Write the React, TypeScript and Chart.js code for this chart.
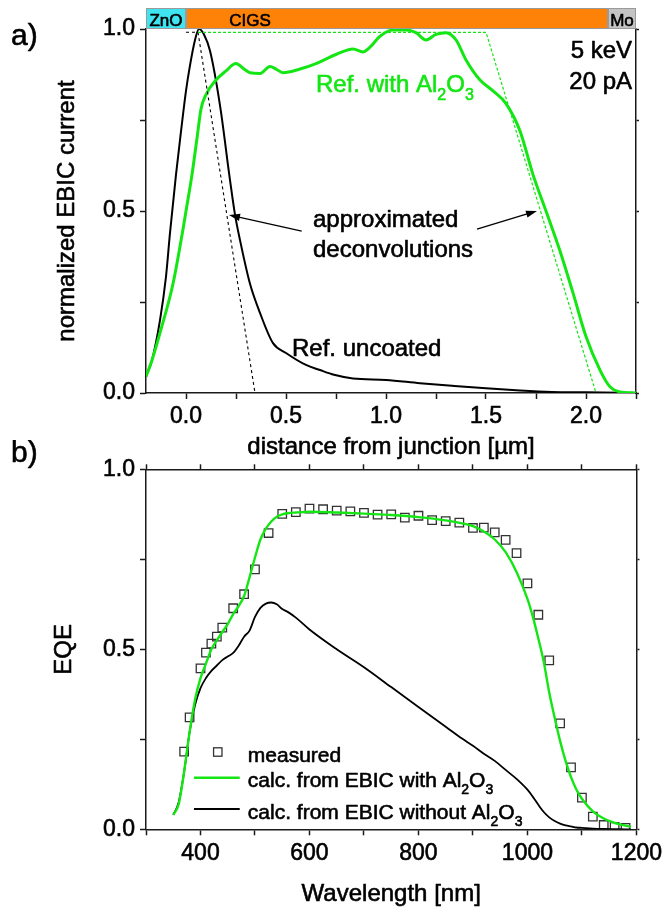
import React, { useEffect, useRef } from 'react';
import { Chart, registerables } from 'chart.js';

Chart.register(...registerables);

const FONT = "'Liberation Sans', Arial, Helvetica, sans-serif";
const GREEN = '#14e614';
const AXIS = '#1a1a1a';
const TEXT_STROKE = 0.6;

// ---------- Panel a: EBIC profiles ----------
const distUncoated = [-0.2, -0.17, -0.13, -0.1, -0.08, -0.05, -0.03, 0, 0.02, 0.045, 0.065, 0.09, 0.12, 0.17, 0.22, 0.245, 0.27, 0.32, 0.37, 0.435, 0.5, 0.6, 0.67, 0.74, 0.835, 1.0, 1.17, 1.33, 1.5, 1.67, 1.83, 2.0, 2.25];
const ebicUncoated = [0.045, 0.09, 0.2, 0.32, 0.44, 0.6, 0.695, 0.83, 0.9, 0.97, 1.0, 0.985, 0.94, 0.79, 0.585, 0.49, 0.42, 0.3, 0.22, 0.137, 0.11, 0.077, 0.063, 0.05, 0.04, 0.036, 0.027, 0.02, 0.013, 0.007, 0.003, 0.002, 0];

const distCoated = [-0.2, -0.17, -0.13, -0.065, -0.015, 0, 0.03, 0.055, 0.075, 0.1, 0.15, 0.2, 0.25, 0.29, 0.32, 0.37, 0.42, 0.45, 0.485, 0.57, 0.65, 0.75, 0.835, 0.885, 0.92, 0.97, 1.035, 1.1, 1.15, 1.2, 1.25, 1.3, 1.35, 1.4, 1.47, 1.535, 1.6, 1.67, 1.735, 1.8, 1.87, 1.935, 2.0, 2.07, 2.12, 2.17, 2.25];
const ebicCoated = [0.045, 0.09, 0.165, 0.3, 0.45, 0.5, 0.6, 0.7, 0.78, 0.82, 0.86, 0.885, 0.905, 0.89, 0.88, 0.878, 0.897, 0.89, 0.88, 0.89, 0.905, 0.93, 0.945, 0.937, 0.95, 0.98, 0.997, 0.997, 0.99, 0.97, 0.985, 0.99, 0.97, 0.915, 0.86, 0.83, 0.795, 0.72, 0.6, 0.5, 0.39, 0.275, 0.155, 0.063, 0.017, 0.003, 0];

const deconvUncoatedX = [0, 0.06, 0.345];
const deconvUncoatedY = [0.991, 0.991, 0];
const deconvCoatedX = [0.06, 1.5, 2.05];
const deconvCoatedY = [0.991, 0.991, 0];

const layerNames = ['ZnO', 'CIGS', 'Mo'];
const layerEdges = [-0.2, 0, 2.11, 2.25];
const layerColors = ['#3fe4f0', '#ff8208', '#c4c4c4'];
const layerLabelX = [-0.1, 0.32, 2.18];

const distTicks = [0, 0.25, 0.5, 0.75, 1, 1.25, 1.5, 1.75, 2, 2.25];
const distLabels = [0, 0.5, 1, 1.5, 2];
const fracTicks = [0, 0.25, 0.5, 0.75, 1];
const fracLabels = [0, 0.5, 1];

// ---------- Panel b: EQE ----------
const wlMeasured = [370, 380, 400, 410, 420, 430, 440, 460, 480, 500, 525, 550, 575, 600, 625, 650, 675, 700, 725, 750, 775, 800, 825, 850, 875, 900, 920, 940, 960, 980, 1000, 1020, 1040, 1060, 1080, 1100, 1120, 1140, 1160, 1180];
const eqeMeasured = [0.216, 0.311, 0.447, 0.491, 0.516, 0.535, 0.56, 0.614, 0.653, 0.722, 0.823, 0.876, 0.881, 0.891, 0.889, 0.885, 0.883, 0.879, 0.874, 0.875, 0.866, 0.871, 0.859, 0.856, 0.852, 0.837, 0.838, 0.825, 0.804, 0.767, 0.683, 0.596, 0.469, 0.294, 0.172, 0.088, 0.035, 0.012, 0.007, 0.004];

const wlCalc = [350, 360, 370, 380, 390, 400, 410, 420, 430, 440, 450, 460, 470, 480, 490, 500, 510, 520, 530, 540, 550, 560, 575, 600, 650, 700, 750, 800, 850, 880, 900, 920, 940, 960, 980, 1000, 1010, 1020, 1030, 1040, 1050, 1060, 1070, 1080, 1090, 1100, 1120, 1140, 1160, 1180, 1190];
const eqeWithAl2O3 = [0.04, 0.07, 0.16, 0.27, 0.36, 0.42, 0.46, 0.5, 0.525, 0.548, 0.57, 0.598, 0.62, 0.648, 0.7, 0.755, 0.805, 0.835, 0.855, 0.868, 0.875, 0.878, 0.88, 0.882, 0.88, 0.877, 0.873, 0.867, 0.858, 0.85, 0.842, 0.827, 0.805, 0.77, 0.715, 0.64, 0.59, 0.53, 0.465, 0.38, 0.31, 0.245, 0.19, 0.145, 0.11, 0.085, 0.05, 0.03, 0.018, 0.01, 0.007];
const eqeWithoutAl2O3 = [0.04, 0.075, 0.16, 0.27, 0.345, 0.392, 0.42, 0.44, 0.455, 0.47, 0.48, 0.49, 0.51, 0.535, 0.552, 0.59, 0.615, 0.627, 0.63, 0.625, 0.612, 0.604, 0.588, 0.555, 0.5, 0.45, 0.395, 0.34, 0.285, 0.252, 0.232, 0.21, 0.19, 0.165, 0.14, 0.11, 0.09, 0.068, 0.048, 0.033, 0.023, 0.016, 0.011, 0.008, 0.005, 0.004, 0.002, 0.001, 0.0005, 0, 0];

const wlTicks = [300, 400, 500, 600, 700, 800, 900, 1000, 1100, 1200];
const wlLabels = [400, 600, 800, 1000, 1200];

// ---------- helpers ----------
type Part = { t: string; sub?: boolean };

function drawRich(ctx: CanvasRenderingContext2D, parts: Part[], x: number, y: number, size: number, color: string, align: 'left' | 'right' | 'center' = 'left') {
  ctx.save();
  ctx.fillStyle = color;
  ctx.strokeStyle = color;
  ctx.lineWidth = TEXT_STROKE;
  ctx.lineJoin = 'round';
  ctx.textBaseline = 'alphabetic';
  ctx.textAlign = 'left';
  const subSize = Math.round(size * 0.67);
  let total = 0;
  const widths = parts.map((p) => {
    ctx.font = `${p.sub ? subSize : size}px ${FONT}`;
    const w = ctx.measureText(p.t).width;
    total += w;
    return w;
  });
  let cx = align === 'left' ? x : align === 'right' ? x - total : x - total / 2;
  parts.forEach((p, i) => {
    ctx.font = `${p.sub ? subSize : size}px ${FONT}`;
    const yy = p.sub ? y + size * 0.33 : y;
    ctx.fillText(p.t, cx, yy);
    ctx.strokeText(p.t, cx, yy);
    cx += widths[i];
  });
  ctx.restore();
}

function drawArrow(ctx: CanvasRenderingContext2D, x0: number, y0: number, x1: number, y1: number) {
  const ang = Math.atan2(y1 - y0, x1 - x0);
  const L = 11;
  const W = 3.6;
  const c = Math.cos(ang);
  const s = Math.sin(ang);
  ctx.save();
  ctx.strokeStyle = '#000';
  ctx.fillStyle = '#000';
  ctx.lineWidth = 1.3;
  ctx.beginPath();
  ctx.moveTo(x0, y0);
  ctx.lineTo(x1 - L * 0.7 * c, y1 - L * 0.7 * s);
  ctx.stroke();
  ctx.beginPath();
  ctx.moveTo(x1, y1);
  ctx.lineTo(x1 - L * c + W * s, y1 - L * s - W * c);
  ctx.lineTo(x1 - L * c - W * s, y1 - L * s + W * c);
  ctx.closePath();
  ctx.fill();
  ctx.restore();
}

function rotatedTitle(ctx: CanvasRenderingContext2D, text: string, x: number, y: number, size: number) {
  ctx.save();
  ctx.translate(x, y);
  ctx.rotate(-Math.PI / 2);
  drawRich(ctx, [{ t: text }], 0, 0, size, '#000', 'center');
  ctx.restore();
}

const toXY = (xs: number[], ys: number[]) => xs.map((x, i) => ({ x, y: ys[i] }));

const tickFont = { family: FONT, size: 23 };
const tickText = { color: '#000', font: tickFont, textStrokeColor: '#000', textStrokeWidth: TEXT_STROKE };

function fixedTicks(values: number[]) {
  return (scale: any) => {
    scale.ticks = values.map((v) => ({ value: v }));
  };
}

const panelAPlugin = {
  id: 'panelAExtras',
  afterDraw(chart: any) {
    const ctx: CanvasRenderingContext2D = chart.ctx;
    const x = chart.scales.x;
    const y = chart.scales.y;
    const px = (v: number) => x.getPixelForValue(v);
    const py = (v: number) => y.getPixelForValue(v);
    const barBottom = py(1);
    const barH = 21;
    // layer stack bar above the plot
    ctx.save();
    for (let i = 0; i < layerNames.length; i++) {
      const x0 = px(layerEdges[i]);
      const x1 = px(layerEdges[i + 1]);
      ctx.fillStyle = layerColors[i];
      ctx.fillRect(x0, barBottom - barH, x1 - x0, barH);
      ctx.strokeStyle = '#9a9a9a';
      ctx.lineWidth = 1;
      ctx.strokeRect(x0 + 0.5, barBottom - barH + 0.5, x1 - x0 - 1, barH - 1);
    }
    ctx.restore();
    for (let i = 0; i < layerNames.length; i++) {
      drawRich(ctx, [{ t: layerNames[i] }], px(layerLabelX[i]), barBottom - 3, 17, '#000', 'center');
    }
    // annotations
    drawRich(ctx, [{ t: 'Ref. with Al' }, { t: '2', sub: true }, { t: 'O' }, { t: '3', sub: true }], px(0.65), py(0.828), 24, GREEN);
    drawRich(ctx, [{ t: '5 keV' }], px(2.23), py(0.9195), 24, '#000', 'right');
    drawRich(ctx, [{ t: '20 pA' }], px(2.23), py(0.8354), 24, '#000', 'right');
    drawRich(ctx, [{ t: 'approximated' }], px(0.635), py(0.456), 24, '#000');
    drawRich(ctx, [{ t: 'deconvolutions' }], px(0.635), py(0.3736), 24, '#000');
    drawRich(ctx, [{ t: 'Ref. uncoated' }], px(0.53), py(0.103), 24, '#000');
    drawArrow(ctx, px(0.5785), py(0.445), px(0.215), py(0.489));
    drawArrow(ctx, px(1.455), py(0.4505), px(1.755), py(0.5));
    // axis titles and panel label
    rotatedTitle(ctx, 'normalized EBIC current', 73.5, (chart.chartArea.top + chart.chartArea.bottom) / 2, 24);
    drawRich(ctx, [{ t: 'distance from junction [µm]' }], (chart.chartArea.left + chart.chartArea.right) / 2, 454, 24, '#000', 'center');
    drawRich(ctx, [{ t: 'a)' }], 11, 45, 30, '#000');
  },
};

const panelBPlugin = {
  id: 'panelBExtras',
  afterDraw(chart: any) {
    const ctx: CanvasRenderingContext2D = chart.ctx;
    const x = chart.scales.x;
    const y = chart.scales.y;
    const px = (v: number) => x.getPixelForValue(v);
    const py = (v: number) => y.getPixelForValue(v);
    // legend
    const mx = px(431.7);
    const my = py(0.2147);
    ctx.save();
    ctx.strokeStyle = '#333';
    ctx.lineWidth = 1.3;
    ctx.strokeRect(mx - 4.2, my - 4.2, 8.4, 8.4);
    ctx.lineWidth = 2.4;
    ctx.strokeStyle = GREEN;
    ctx.beginPath();
    ctx.moveTo(px(388), py(0.1433));
    ctx.lineTo(px(472), py(0.1433));
    ctx.stroke();
    ctx.lineWidth = 2;
    ctx.strokeStyle = '#000';
    ctx.beginPath();
    ctx.moveTo(px(388), py(0.0564));
    ctx.lineTo(px(472), py(0.0564));
    ctx.stroke();
    ctx.restore();
    drawRich(ctx, [{ t: 'measured' }], px(486.8), py(0.187), 21, '#000');
    drawRich(ctx, [{ t: 'calc. from EBIC with Al' }, { t: '2', sub: true }, { t: 'O' }, { t: '3', sub: true }], px(486.8), py(0.1175), 21, '#000');
    drawRich(ctx, [{ t: 'calc. from EBIC without Al' }, { t: '2', sub: true }, { t: 'O' }, { t: '3', sub: true }], px(486.8), py(0.0297), 21, '#000');
    rotatedTitle(ctx, 'EQE', 71, (chart.chartArea.top + chart.chartArea.bottom) / 2, 24);
    drawRich(ctx, [{ t: 'Wavelength [nm]' }], (chart.chartArea.left + chart.chartArea.right) / 2, 461, 24, '#000', 'center');
    drawRich(ctx, [{ t: 'b)' }], 11, 22, 30, '#000');
  },
};

const gridCommon = { drawOnChartArea: false, tickColor: AXIS, tickWidth: 1.5 };
const borderCommon = { color: AXIS, width: 1.5 };

function makeConfigA(): any {
  return {
    type: 'scatter',
    data: {
      datasets: [
        { data: toXY(deconvCoatedX, deconvCoatedY), showLine: true, borderColor: GREEN, borderWidth: 1.2, borderDash: [3, 2], pointRadius: 0 },
        { data: toXY(deconvUncoatedX, deconvUncoatedY), showLine: true, borderColor: '#000', borderWidth: 1.1, borderDash: [3, 3], pointRadius: 0 },
        { data: toXY(distCoated, ebicCoated), showLine: true, borderColor: GREEN, borderWidth: 3, pointRadius: 0, cubicInterpolationMode: 'monotone' },
        { data: toXY(distUncoated, ebicUncoated), showLine: true, borderColor: '#000', borderWidth: 2, pointRadius: 0, cubicInterpolationMode: 'monotone' },
      ],
    },
    options: {
      animation: false,
      responsive: false,
      devicePixelRatio: 1,
      events: [],
      layout: { padding: { top: 29, left: 0, right: 0, bottom: 0 } },
      plugins: { legend: { display: false }, tooltip: { enabled: false } },
      scales: {
        x: {
          type: 'linear', axis: 'x', position: 'bottom', min: -0.2, max: 2.25,
          afterBuildTicks: fixedTicks(distTicks),
          afterFit: (s: any) => { s.height = 67; },
          ticks: { ...tickText, autoSkip: false, maxRotation: 0, padding: 4, callback: (v: number) => (distLabels.includes(v) ? v.toFixed(1) : '') },
          grid: { ...gridCommon, tickLength: 6 },
          border: borderCommon,
        },
        y: {
          type: 'linear', axis: 'y', position: 'left', min: 0, max: 1,
          afterBuildTicks: fixedTicks(fracTicks),
          afterFit: (s: any) => { s.width = 146; },
          ticks: { ...tickText, autoSkip: false, padding: 5, callback: (v: number) => (fracLabels.includes(v) ? v.toFixed(1) : '') },
          grid: { ...gridCommon, tickLength: 6 },
          border: borderCommon,
        },
        y2: {
          type: 'linear', axis: 'y', position: 'right', min: 0, max: 1,
          afterBuildTicks: fixedTicks(fracTicks),
          afterFit: (s: any) => { s.width = 31; },
          ticks: { display: false },
          grid: { ...gridCommon, tickLength: 3 },
          border: borderCommon,
        },
      },
    },
    plugins: [panelAPlugin],
  };
}

function makeConfigB(): any {
  return {
    type: 'scatter',
    data: {
      datasets: [
        { data: toXY(wlCalc, eqeWithAl2O3), showLine: true, borderColor: GREEN, borderWidth: 2.4, pointRadius: 0, cubicInterpolationMode: 'monotone' },
        { data: toXY(wlCalc, eqeWithoutAl2O3), showLine: true, borderColor: '#000', borderWidth: 1.8, pointRadius: 0, cubicInterpolationMode: 'monotone' },
        { data: toXY(wlMeasured, eqeMeasured), showLine: false, pointStyle: 'rect', pointRadius: 6, borderColor: '#333', pointBorderWidth: 1.3, backgroundColor: 'rgba(0,0,0,0)' },
      ],
    },
    options: {
      animation: false,
      responsive: false,
      devicePixelRatio: 1,
      events: [],
      layout: { padding: { top: 20, left: 0, right: 0, bottom: 0 } },
      plugins: { legend: { display: false }, tooltip: { enabled: false } },
      scales: {
        x: {
          type: 'linear', axis: 'x', position: 'bottom', min: 300, max: 1200,
          afterBuildTicks: fixedTicks(wlTicks),
          afterFit: (s: any) => { s.height = 83.7; },
          ticks: { ...tickText, autoSkip: false, maxRotation: 0, padding: 5, callback: (v: number) => (wlLabels.includes(v) ? String(v) : '') },
          grid: { ...gridCommon, tickLength: 6 },
          border: borderCommon,
        },
        x2: {
          type: 'linear', axis: 'x', position: 'top', min: 300, max: 1200,
          afterBuildTicks: fixedTicks(wlTicks),
          afterFit: (s: any) => { s.height = 9.3; },
          ticks: { display: false },
          grid: { ...gridCommon, tickLength: 5 },
          border: borderCommon,
        },
        y: {
          type: 'linear', axis: 'y', position: 'left', min: 0, max: 1,
          afterBuildTicks: fixedTicks(fracTicks),
          afterFit: (s: any) => { s.width = 146; },
          ticks: { ...tickText, autoSkip: false, padding: 5, callback: (v: number) => (fracLabels.includes(v) ? v.toFixed(1) : '') },
          grid: { ...gridCommon, tickLength: 6 },
          border: borderCommon,
        },
        y2: {
          type: 'linear', axis: 'y', position: 'right', min: 0, max: 1,
          afterBuildTicks: fixedTicks(fracTicks),
          afterFit: (s: any) => { s.width = 30; },
          ticks: { display: false },
          grid: { ...gridCommon, tickLength: 3 },
          border: borderCommon,
        },
      },
    },
    plugins: [panelBPlugin],
  };
}

export default function App() {
  const refA = useRef<HTMLCanvasElement>(null);
  const refB = useRef<HTMLCanvasElement>(null);
  useEffect(() => {
    const a = new Chart(refA.current as HTMLCanvasElement, makeConfigA());
    const b = new Chart(refB.current as HTMLCanvasElement, makeConfigB());
    return () => {
      a.destroy();
      b.destroy();
    };
  }, []);
  return (
    <div style={{ position: 'absolute', left: 0, top: 0, width: 667, height: 913, background: '#fff', overflow: 'hidden' }}>
      <canvas ref={refA} width={667} height={460} style={{ position: 'absolute', left: 0, top: 0, width: 667, height: 460 }} />
      <canvas ref={refB} width={667} height={473} style={{ position: 'absolute', left: 0, top: 440, width: 667, height: 473 }} />
    </div>
  );
}
